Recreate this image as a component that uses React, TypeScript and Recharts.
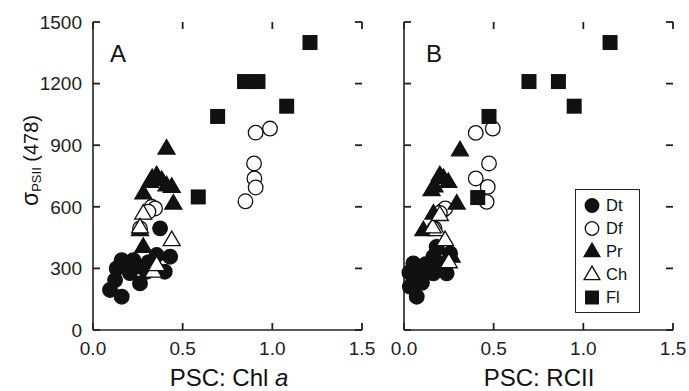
import React from 'react';
import { ScatterChart, Scatter, XAxis, YAxis, Legend } from 'recharts';

// ---- tick labels ----
const xTicks = [0, 0.5, 1.0, 1.5];
const yTicks = [0, 300, 600, 900, 1200, 1500];
const seriesNames = ['Dt', 'Df', 'Pr', 'Ch', 'Fl'];

// ---- Panel A: PSC: Chl a ----
const dtA = [
  { x: 0.095, y: 195 }, { x: 0.16, y: 162 }, { x: 0.123, y: 243 }, { x: 0.16, y: 340 },
  { x: 0.225, y: 340 }, { x: 0.262, y: 227 }, { x: 0.206, y: 277 }, { x: 0.355, y: 365 },
  { x: 0.43, y: 357 }, { x: 0.40, y: 284 }, { x: 0.30, y: 284 }, { x: 0.132, y: 300 },
  { x: 0.374, y: 495 }, { x: 0.25, y: 310 }, { x: 0.19, y: 300 }, { x: 0.31, y: 330 },
];
const dfA = [
  { x: 0.987, y: 981 }, { x: 0.907, y: 961 }, { x: 0.898, y: 811 }, { x: 0.90, y: 738 },
  { x: 0.907, y: 694 }, { x: 0.85, y: 627 }, { x: 0.327, y: 600 }, { x: 0.346, y: 592 },
  { x: 0.309, y: 576 }, { x: 0.262, y: 495 },
];
const prA = [
  { x: 0.41, y: 884 }, { x: 0.355, y: 754 }, { x: 0.383, y: 730 }, { x: 0.318, y: 721 },
  { x: 0.439, y: 697 }, { x: 0.281, y: 665 }, { x: 0.448, y: 616 }, { x: 0.41, y: 705 },
  { x: 0.262, y: 486 }, { x: 0.28, y: 405 }, { x: 0.33, y: 740 },
];
const chA = [
  { x: 0.439, y: 438 }, { x: 0.28, y: 567 }, { x: 0.262, y: 500 }, { x: 0.336, y: 284 },
  { x: 0.355, y: 316 },
];
const flA = [
  { x: 1.21, y: 1400 }, { x: 0.845, y: 1210 }, { x: 0.92, y: 1210 }, { x: 1.08, y: 1090 },
  { x: 0.695, y: 1040 }, { x: 0.587, y: 648 },
];

// ---- Panel B: PSC: RCII ----
const dtB = [
  { x: 0.052, y: 324 }, { x: 0.071, y: 162 }, { x: 0.033, y: 211 }, { x: 0.108, y: 276 },
  { x: 0.164, y: 276 }, { x: 0.219, y: 324 }, { x: 0.257, y: 373 }, { x: 0.164, y: 357 },
  { x: 0.052, y: 259 }, { x: 0.238, y: 276 }, { x: 0.182, y: 405 }, { x: 0.078, y: 300 },
  { x: 0.12, y: 320 }, { x: 0.03, y: 280 }, { x: 0.20, y: 300 }, { x: 0.10, y: 230 },
];
const dfB = [
  { x: 0.40, y: 960 }, { x: 0.495, y: 981 }, { x: 0.474, y: 811 }, { x: 0.40, y: 738 },
  { x: 0.467, y: 697 }, { x: 0.461, y: 624 }, { x: 0.219, y: 584 }, { x: 0.23, y: 592 },
  { x: 0.20, y: 570 }, { x: 0.17, y: 495 },
];
const prB = [
  { x: 0.312, y: 875 }, { x: 0.20, y: 754 }, { x: 0.247, y: 721 }, { x: 0.154, y: 681 },
  { x: 0.294, y: 616 }, { x: 0.164, y: 567 }, { x: 0.108, y: 486 }, { x: 0.182, y: 397 },
  { x: 0.266, y: 357 }, { x: 0.22, y: 740 }, { x: 0.17, y: 700 },
];
const chB = [
  { x: 0.182, y: 486 }, { x: 0.229, y: 438 }, { x: 0.16, y: 500 }, { x: 0.25, y: 330 },
  { x: 0.20, y: 560 },
];
const flB = [
  { x: 1.149, y: 1400 }, { x: 0.697, y: 1210 }, { x: 0.861, y: 1210 }, { x: 0.949, y: 1090 },
  { x: 0.474, y: 1040 }, { x: 0.411, y: 645 },
];

const X_MAX = 1.5;
const Y_MAX = 1500;

// tick anchor points on the four sides of the frame (built from the tick arrays)
const bottomTickPts = xTicks.map((v) => ({ x: v, y: 0 }));
const topTickPts = xTicks.map((v) => ({ x: v, y: Y_MAX }));
const leftTickPts = yTicks.map((v) => ({ x: 0, y: v }));
const rightTickPts = yTicks.map((v) => ({ x: X_MAX, y: v }));

const FONT = '"Liberation Sans", Arial, sans-serif';
const INK = '#111';
const AXIS = '#222';
const MARGIN = 14;
const TL = 7;

type MarkerKind = 'circle' | 'ocircle' | 'tri' | 'otri' | 'square';
const kindOf: Record<string, MarkerKind> = {
  Dt: 'circle', Df: 'ocircle', Pr: 'tri', Ch: 'otri', Fl: 'square',
};

function Marker({ kind, cx, cy, s = 1 }: { kind: MarkerKind; cx: number; cy: number; s?: number }) {
  if (kind === 'circle' || kind === 'ocircle') {
    return (
      <circle cx={cx} cy={cy} r={7.3 * s}
        fill={kind === 'circle' ? INK : '#fff'} stroke={INK} strokeWidth={1.3} />
    );
  }
  if (kind === 'tri' || kind === 'otri') {
    const h = 8.5 * s;
    const pts = `${cx},${cy - 9 * s} ${cx - h},${cy + 5.5 * s} ${cx + h},${cy + 5.5 * s}`;
    return (
      <polygon points={pts} fill={kind === 'tri' ? INK : '#fff'} stroke={INK}
        strokeWidth={1.3} strokeLinejoin="miter" />
    );
  }
  const w = 7.5 * s;
  return <rect x={cx - w} y={cy - w} width={2 * w} height={2 * w} fill={INK} />;
}

const shapeFor = (kind: MarkerKind) => (props: any) =>
  <Marker kind={kind} cx={props.cx} cy={props.cy} />;

// short inward tick marks drawn as scatter glyphs
const tickShape = (dx: number, dy: number) => (props: any) => (
  <line x1={props.cx} y1={props.cy} x2={props.cx + dx * TL} y2={props.cy + dy * TL}
    stroke={AXIS} strokeWidth={1.8} />
);

const renderLegend = () => (
  <div style={{
    width: 65, height: 124, border: `1.5px solid ${AXIS}`, background: '#fff',
    boxSizing: 'border-box', paddingTop: 4,
  }}>
    {seriesNames.map((n) => (
      <div key={n} style={{ display: 'flex', alignItems: 'center', height: 23 }}>
        <svg width={26} height={23} style={{ display: 'block' }}>
          <Marker kind={kindOf[n]} cx={16} cy={11.5} s={0.93} />
        </svg>
        <span style={{ fontFamily: FONT, fontSize: 16.5, color: INK, marginLeft: 4, lineHeight: '23px' }}>{n}</span>
      </div>
    ))}
  </div>
);

// tick label renderers
const bottomTick = (props: any) => {
  const { x, y, payload } = props;
  return (
    <text x={x} y={Number(y) + 11} textAnchor="middle" fontFamily={FONT} fontSize={19} fill="#222">
      {Number(payload.value).toFixed(1)}
    </text>
  );
};
const leftTick = (showLabel: boolean) => (props: any) => {
  const { x, y, payload } = props;
  if (!showLabel) return <g />;
  return (
    <text x={Number(x) + 3} y={Number(y) + 6.8} textAnchor="end" fontFamily={FONT} fontSize={19} fill="#222">
      {String(payload.value)}
    </text>
  );
};

const axisLine = { stroke: AXIS, strokeWidth: 1.6 };

type PanelProps = {
  dt: any[]; df: any[]; pr: any[]; ch: any[]; fl: any[];
  marginLeft: number; yAxisWidth: number; marginRight: number; showY: boolean; legend: boolean;
};

function Panel({ dt, df, pr, ch, fl, marginLeft, yAxisWidth, marginRight, showY, legend }: PanelProps) {
  return (
    <ScatterChart width={689} height={391}
      margin={{ top: 22, right: marginRight, bottom: 0, left: marginLeft }}>
      <XAxis xAxisId="b" dataKey="x" type="number" domain={[0, X_MAX]} ticks={xTicks}
        height={61} tickSize={0} tickMargin={MARGIN}
        tick={bottomTick} axisLine={axisLine} tickLine={false} interval={0} />
      <XAxis xAxisId="t" orientation="top" dataKey="x" type="number" domain={[0, X_MAX]}
        ticks={xTicks} height={0} tick={false}
        axisLine={axisLine} tickLine={false} />
      <YAxis yAxisId="l" dataKey="y" type="number" domain={[0, Y_MAX]} ticks={yTicks}
        width={yAxisWidth} tickSize={0} tickMargin={MARGIN}
        tick={leftTick(showY)} axisLine={axisLine} tickLine={false} interval={0} />
      <YAxis yAxisId="r" orientation="right" dataKey="y" type="number" domain={[0, Y_MAX]}
        ticks={yTicks} width={0} tick={false}
        axisLine={axisLine} tickLine={false} />
      <Scatter name="tb" legendType="none" data={bottomTickPts} xAxisId="b" yAxisId="l" shape={tickShape(0, -1)} isAnimationActive={false} />
      <Scatter name="tt" legendType="none" data={topTickPts} xAxisId="b" yAxisId="l" shape={tickShape(0, 1)} isAnimationActive={false} />
      <Scatter name="tl" legendType="none" data={leftTickPts} xAxisId="b" yAxisId="l" shape={tickShape(1, 0)} isAnimationActive={false} />
      <Scatter name="tr" legendType="none" data={rightTickPts} xAxisId="b" yAxisId="l" shape={tickShape(-1, 0)} isAnimationActive={false} />
      <Scatter name="Dt" data={dt} xAxisId="b" yAxisId="l" shape={shapeFor('circle')} isAnimationActive={false} />
      <Scatter name="Df" data={df} xAxisId="b" yAxisId="l" shape={shapeFor('ocircle')} isAnimationActive={false} />
      <Scatter name="Pr" data={pr} xAxisId="b" yAxisId="l" shape={shapeFor('tri')} isAnimationActive={false} />
      <Scatter name="Ch" data={ch} xAxisId="b" yAxisId="l" shape={shapeFor('otri')} isAnimationActive={false} />
      <Scatter name="Fl" data={fl} xAxisId="b" yAxisId="l" shape={shapeFor('square')} isAnimationActive={false} />
      {legend && (
        <Legend layout="vertical" align="center" verticalAlign="middle" content={renderLegend}
          wrapperStyle={{ left: 575, top: 189, width: 65, height: 124 }} />
      )}
    </ScatterChart>
  );
}

export default function App() {
  return (
    <div style={{ position: 'absolute', left: 0, top: 0, width: 689, height: 391, background: '#fff' }}>
      <div style={{ position: 'absolute', left: 0, top: 0 }}>
        <Panel dt={dtA} df={dfA} pr={prA} ch={chA} fl={flA} marginLeft={0} yAxisWidth={93}
          marginRight={327} showY={true} legend={false} />
      </div>
      <div style={{ position: 'absolute', left: 0, top: 0 }}>
        <Panel dt={dtB} df={dfB} pr={prB} ch={chB} fl={flB} marginLeft={370} yAxisWidth={34}
          marginRight={16} showY={false} legend={true} />
      </div>
      <svg width={689} height={391} style={{ position: 'absolute', left: 0, top: 0, pointerEvents: 'none' }}>
        <text x={110} y={62} fontFamily={FONT} fontSize={24} fill={INK}>A</text>
        <text x={426} y={62} fontFamily={FONT} fontSize={24} fill={INK}>B</text>
        <text x={229} y={386} textAnchor="middle" fontFamily={FONT} fontSize={24} fill={INK}>
          PSC: Chl <tspan fontStyle="italic">a</tspan>
        </text>
        <text x={539} y={386} textAnchor="middle" fontFamily={FONT} fontSize={24} fill={INK}>
          PSC: RCII
        </text>
        <text transform="translate(38,206) rotate(-90)" textAnchor="start" fontFamily={FONT}
          fontSize={20} fill={INK}>
          <tspan fontSize={23}>σ</tspan><tspan fontSize={13} dy={3}>PSII</tspan><tspan dy={-3}> (478)</tspan>
        </text>
      </svg>
    </div>
  );
}
